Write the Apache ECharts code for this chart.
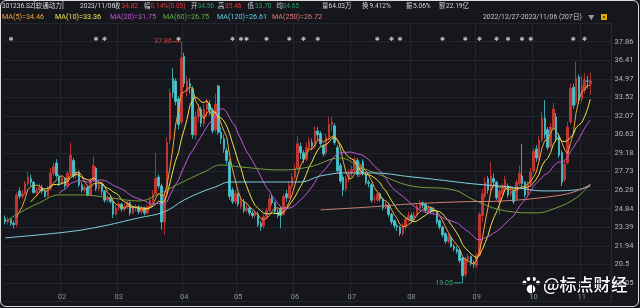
<!DOCTYPE html>
<html><head><meta charset="utf-8">
<script src="https://cdn.jsdelivr.net/npm/echarts@6/dist/echarts.min.js"></script>
<style>
html,body{margin:0;padding:0;background:#fff;}
#wrap{position:relative;width:640px;height:308px;}
#c{width:640px;height:308px;}
#frame{position:absolute;left:0;top:0;width:637px;height:305px;border:1.5px solid #dcdcdc;border-radius:6px;pointer-events:none;}
</style></head>
<body><div id="wrap"><div id="c"></div><div id="frame"></div></div>
<script>
// ---- data ----
// daily candles [open, close, low, high], 2022/12/27 .. 2023/11/06 (207 trading days)
const ohlc = [
[24.1,23.8,23.6,24.3],[23.8,24.0,23.6,24.2],[24.0,23.7,23.5,24.1],[23.7,23.6,23.3,23.9],[23.6,25.9,23.4,26.1],
[26.2,25.8,25.6,26.5],[25.8,26.0,25.6,26.3],[26.0,26.8,25.9,27.0],[26.8,27.3,26.6,27.7],[27.2,26.9,26.6,27.5],
[26.9,26.1,26.0,27.0],[26.1,26.3,25.9,26.5],[26.3,26.5,26.1,26.8],[26.5,26.2,26.0,26.7],[26.2,25.8,25.7,26.4],
[25.8,26.4,25.7,26.6],[26.4,27.6,26.3,28.0],[27.6,28.1,27.4,28.4],[28.4,27.4,27.2,28.7],[27.4,26.8,26.6,27.5],
[26.8,27.2,26.7,27.4],[27.2,26.6,26.4,27.3],[26.6,27.6,26.5,27.8],[27.6,29.0,27.4,30.0],[28.6,27.4,27.2,28.8],
[27.4,27.7,27.2,28.0],[27.7,26.7,26.5,27.8],[26.7,26.3,26.1,26.9],[26.3,26.5,26.1,26.7],[26.5,25.9,25.8,26.6],
[25.9,27.0,25.8,27.2],[27.0,28.2,26.9,28.9],[28.0,26.4,26.2,28.1],[26.4,26.7,26.2,27.0],[26.7,26.2,25.9,26.9],
[26.2,25.5,25.3,26.3],[25.5,25.7,25.3,25.9],[25.7,25.4,25.2,25.9],[25.4,24.4,24.1,25.5],[24.4,24.9,24.3,25.1],
[24.9,25.2,24.7,25.4],[25.2,24.8,24.6,25.3],[24.8,25.0,24.6,25.2],[25.0,25.3,24.8,25.5],[25.3,24.5,24.3,25.4],
[24.5,24.9,24.4,25.1],[24.9,25.0,24.6,25.2],[25.0,24.6,24.4,25.1],[24.6,24.9,24.4,25.1],[24.9,24.5,24.3,25.0],
[24.5,25.0,24.4,25.2],[25.0,25.5,24.9,25.7],[25.5,26.0,25.3,26.3],[26.0,27.2,25.9,29.2],[27.3,26.6,26.4,27.5],
[26.6,23.8,23.2,26.8],[23.8,25.9,22.8,26.1],[26.0,30.0,25.9,30.4],[30.2,33.9,29.9,34.2],[35.0,33.9,33.5,35.8],
[34.8,33.2,32.9,35.0],[33.4,31.4,31.0,33.6],[31.6,36.6,31.4,37.86],[36.7,34.6,34.3,37.0],[34.0,34.8,33.6,35.2],
[34.6,34.4,33.8,35.0],[34.2,30.6,30.3,34.4],[30.6,32.0,30.2,32.4],[32.0,32.6,31.6,33.0],[32.6,31.5,31.2,32.8],
[31.5,32.6,31.2,33.0],[32.6,33.0,32.0,33.4],[33.0,32.5,32.1,33.3],[32.5,30.9,30.7,32.7],[31.0,33.0,30.8,33.8],
[34.4,30.8,30.6,34.5],[30.8,30.3,29.9,31.2],[30.3,29.5,29.2,30.6],[29.4,28.6,28.3,29.6],[28.5,25.8,25.5,28.7],
[26.3,25.4,25.2,26.5],[25.4,26.0,25.2,26.3],[26.0,25.2,25.0,26.1],[25.0,25.6,24.8,25.8],[25.4,24.7,24.5,25.6],
[24.7,24.9,24.5,25.2],[24.9,24.5,24.3,25.0],[24.5,24.3,24.1,24.7],[24.3,24.5,24.1,24.7],[24.4,23.6,23.4,24.6],
[23.7,23.4,23.1,23.9],[23.5,24.2,23.3,24.4],[24.2,24.7,24.0,24.9],[24.7,25.6,24.5,26.0],[25.7,25.3,25.1,25.9],
[25.3,24.6,24.4,25.4],[24.6,24.3,24.1,24.8],[24.8,24.3,23.3,25.0],[24.4,25.8,24.3,26.0],[26.0,25.7,25.4,26.3],
[25.7,26.6,25.6,26.9],[26.6,27.3,26.4,27.6],[27.3,28.0,27.1,28.3],[28.0,29.9,27.9,30.5],[29.7,29.2,28.7,30.0],
[29.2,28.7,28.4,29.4],[28.7,29.6,28.5,30.0],[29.6,30.1,29.3,30.4],[30.0,29.7,29.4,30.3],[29.7,30.9,29.5,31.3],
[30.9,30.6,30.2,31.2],[30.7,29.9,29.7,30.9],[29.7,29.1,28.9,29.9],[29.2,30.4,29.0,30.7],[30.4,31.4,30.2,32.0],
[31.4,31.6,30.9,32.0],[31.3,30.0,29.8,31.5],[29.6,27.8,27.6,29.8],[28.2,27.0,26.8,28.4],[27.3,26.3,25.8,27.5],
[26.4,27.2,26.2,27.4],[27.1,27.6,26.9,27.9],[27.6,27.9,27.3,28.2],[27.8,28.7,27.6,28.9],[28.6,27.5,27.3,28.8],
[27.5,28.3,27.3,28.5],[28.5,27.6,27.4,28.7],[27.5,26.9,26.7,27.7],[26.9,26.8,26.5,27.1],[26.7,25.5,25.3,26.8],
[25.6,25.6,25.3,25.9],[25.5,26.0,25.4,26.2],[26.0,25.6,25.4,26.1],[25.6,24.9,24.7,25.7],[24.9,25.2,24.8,25.4],
[25.1,24.4,24.2,25.3],[24.4,23.8,23.6,24.5],[23.9,23.5,23.3,24.0],[23.5,23.4,23.1,23.7],[23.4,22.9,22.7,23.5],
[22.9,23.5,22.7,23.7],[23.4,24.0,23.2,24.2],[24.0,24.3,23.8,24.6],[24.3,24.0,23.8,24.5],[24.0,24.4,23.9,24.6],
[24.4,25.0,24.3,25.2],[24.9,25.3,24.7,25.5],[25.3,25.1,24.9,25.4],[25.2,24.7,24.5,25.3],[24.6,24.9,24.4,25.1],
[24.9,24.6,24.4,25.0],[24.6,24.8,24.4,25.0],[24.6,23.8,23.6,24.7],[23.9,23.4,23.2,24.0],[23.4,22.8,22.6,23.5],
[22.9,22.3,22.1,23.0],[22.3,22.7,22.1,22.9],[22.6,21.9,21.8,22.7],[21.9,21.7,21.5,22.1],[21.7,21.5,21.3,21.9],
[21.6,20.8,20.6,21.7],[21.0,19.6,19.05,21.1],[19.7,20.9,19.5,21.1],[20.9,21.1,20.6,21.3],[21.1,20.6,20.4,21.2],
[20.6,20.5,20.2,20.8],[20.4,21.2,20.2,21.4],[21.2,24.4,21.1,24.6],[24.3,26.0,23.8,26.4],[25.8,26.9,25.6,27.3],
[27.2,26.3,26.0,27.4],[26.3,27.4,26.1,28.5],[27.2,26.9,26.5,27.6],[26.9,25.7,25.5,27.0],[25.3,26.2,24.4,26.4],
[26.0,26.6,25.8,26.8],[26.5,27.1,26.3,27.4],[26.6,25.9,25.7,26.8],[26.0,26.2,25.8,26.5],[26.2,25.4,25.2,26.3],
[25.6,26.9,25.5,27.1],[26.8,27.6,26.6,28.2],[27.4,26.8,26.5,29.9],[26.9,25.9,25.7,27.0],[25.9,26.8,25.8,27.0],
[26.8,27.7,26.6,28.0],[27.8,29.3,27.6,29.6],[29.5,28.8,28.5,29.8],[28.8,30.2,28.6,30.5],[30.2,31.9,30.0,32.4],
[31.9,30.6,30.3,33.3],[31.0,29.6,29.4,31.2],[29.7,31.2,29.5,31.5],[31.2,32.6,31.0,33.1],[32.0,30.3,30.1,32.3],
[30.5,29.0,28.8,30.7],[29.2,26.9,26.6,29.4],[27.1,28.3,26.9,28.6],[28.4,31.2,28.3,31.6],[31.6,34.2,31.4,34.6],
[34.3,32.9,32.6,34.6],[33.1,35.0,32.9,36.3],[35.1,33.3,33.0,35.3],[33.4,34.4,33.1,35.2],[34.1,34.9,33.8,35.4],
[34.8,34.77,34.2,35.2],[34.56,34.82,33.70,35.46]
];
// long moving averages: [dayIndex, value]
const ma60Pts = [[0,23.81],[5,24.51],[12,25.29],[19,25.91],[27,25.91],[37,25.68],[47,25.44],[55,26.07],[59,26.53],[64,27.08],[70,27.70],[76,28.25],[83,28.09],[97,27.86],[107,28.09],[118,28.79],[125,28.09],[132,27.47],[143,26.61],[158,26.30],[165,25.52],[176,24.67],[187,24.51],[194,24.90],[201,25.68],[206,26.75]];
const ma120Pts = [[0,22.56],[22,23.03],[33,23.42],[47,24.12],[56,24.59],[63,25.52],[70,26.22],[74,26.53],[79,26.92],[90,26.92],[104,26.92],[111,27.39],[120,27.63],[129,27.63],[143,27.32],[153,27.08],[165,26.77],[178,26.53],[190,26.22],[201,26.30],[206,26.61]];
const ma250Pts = [[111,24.74],[129,24.98],[143,25.21],[160,25.37],[176,25.45],[194,25.84],[201,26.20],[206,26.72]];
// month tick labels and the day index where each month starts
const monthLabels = ['02','03','04','05','06','07','08','09','10','11'];
const monthStart = [20,40,63,82,102,122,143,166,186,203];
// y-axis tick labels
const yTickLow = 19.05, yTickHigh = 37.86, yTickCount = 13;
// event marker days (white asterisks along the top)
const eventDays = [2,32,35,61,80,83,85,92,100,105,110,131,136,139,154,162,167,173,177,182,185,200,204];
// high / low markers
const highPoint = [62, 37.86];
const lowPoint = [161, 19.05];
// header quote
const quoteRow = [
 ['301236.SZ[软通动力]','w'],['2023/11/06','w'],['收','w'],['34.82','r'],['幅','w'],['0.14%(0.05)','r'],
 ['开','w'],['34.56','g'],['高','w'],['35.46','r'],['低','w'],['33.70','g'],['均','w'],['34.65','g'],
 ['量','w'],['64.03万','w'],['换','w'],['9.412%','w'],['振','w'],['5.06%','w'],['额','w'],['22.19亿','w']
];
const maLegend = ['MA(5)=34.46','MA(10)=33.36','MA(20)=31.75','MA(60)=26.75','MA(120)=26.61','MA(250)=26.72'];
const rangeText = '2022/12/27-2023/11/06 (207日)';

// ---- build ----
const N_SLOTS = 214;
const categories = Array.from({length:N_SLOTS}, (_,i)=>'d'+i);
const closes = ohlc.map(d=>d[1]);
function ma(n){ return closes.map((c,i)=>{ if(i<n-1) return '-'; let s=0; for(let k=i-n+1;k<=i;k++) s+=closes[k]; return +(s/n).toFixed(3);}); }
const step = (yTickHigh - yTickLow)/yTickCount;
const yMin = yTickLow - step, yMax = yTickHigh + step;

const RED='#e03c38', GRN='#2f9a63', WHT='#d6d8dc';
const maColors = ['#f0a43a','#efe04c','#c258d6','#5fae45','#5fcfe6','#e07474'];
const FONT = '"Noto Sans CJK SC", "Noto Sans", sans-serif';
const NUMFONT = 'Roboto, "Noto Sans CJK SC", sans-serif';

const rowX = [2,80,114,121.5,144,150.5,191,197.5,218,225,247.5,255,276.5,282.5,322,328.5,362,369.5,406,413,439,446];
const legendX = [2,55,110,163,217,272];
const graphics = [];
quoteRow.forEach((q,k)=>{
  const isLabel = /^[\u4e00-\u9fff]$/.test(q[0]);
  graphics.push({type:'text', left:rowX[k], top: isLabel?2.6:3, silent:true,
    style:{text:q[0], fill: q[1]==='r'?RED:(q[1]==='g'?GRN:WHT), font:(isLabel?'6.4px ':'6.6px ')+(isLabel?FONT:NUMFONT)}});
});
maLegend.forEach((t,k)=>{
  graphics.push({type:'text', left:legendX[k], top:14, silent:true, style:{text:t, fill:maColors[k], font:'7.2px '+NUMFONT}});
});
graphics.push({type:'text', left:483, top:14, style:{text:rangeText, fill:'#c8c8c8', font:'6.8px '+NUMFONT}});
graphics.push({type:'line', shape:{x1:483,y1:23.5,x2:585,y2:23.5}, style:{stroke:'#aaa', lineWidth:0.7}});
graphics.push({type:'text', left:588, top:14.5, style:{text:'▼', fill:'#9a9a9a', font:'6.5px '+FONT}});
graphics.push({type:'rect', shape:{x:601,y:14,width:6,height:6}, style:{fill:'#e0b000'}});
graphics.push({type:'rect', shape:{x:603,y:16,width:2,height:2}, style:{fill:'#6a5000'}});
// watermark
const paw = [[531,289,4.3],[524.5,282.5,1.9],[528.5,279,1.9],[534,279,1.9],[538,282.5,1.9]];
paw.forEach(p=>graphics.push({type:'circle', shape:{cx:p[0],cy:p[1],r:p[2]}, style:{fill:'#fff', shadowColor:'rgba(0,0,0,0.5)', shadowBlur:2}}));
graphics.push({type:'text', left:543, top:276, style:{text:'@标点财经', fill:'#fff', font:'500 17px '+FONT, textShadowColor:'rgba(0,0,0,0.6)', textShadowBlur:3}});

const isMonth = (i)=> monthStart.indexOf(i) >= 0;
const gridColor = '#23262c';

const chart = echarts.init(document.getElementById('c'), null, {renderer:'canvas'});
chart.setOption({
  backgroundColor:'#15171c',
  animation:false,
  grid:{left:3.8, right:28.4, top:23.15, height:278.3},
  xAxis:{type:'category', data:categories, boundaryGap:true,
    axisLine:{show:false}, axisTick:{show:false},
    axisLabel:{interval:(i)=>isMonth(i), formatter:(v,i)=>{const k=monthStart.indexOf(i); return k>=0?monthLabels[k]:'';},
      color:'#8b9099', fontSize:7.5, fontFamily:NUMFONT, margin:-8},
    splitLine:{show:true, interval:(i)=>isMonth(i), lineStyle:{color:gridColor, width:1}}},
  yAxis:{type:'value', position:'right', min:yMin, max:yMax, interval:step, scale:true,
    axisLine:{show:true, lineStyle:{color:'#2a2d33'}}, axisTick:{show:false},
    axisLabel:{color:'#b4b8c0', fontSize:7.5, fontFamily:NUMFONT, margin:3,
      formatter:(v)=> (v<yTickLow-0.01||v>yTickHigh+0.01)?'':String(parseFloat(v.toFixed(2)))},
    splitLine:{show:true, lineStyle:{color:gridColor, width:1}}},
  graphic:graphics,
  series:[
    {type:'candlestick', data:ohlc, barWidth:'72%',
      itemStyle:{color:'#c8332f', color0:'#46c6d0', borderColor:'#d43a35', borderColor0:'#46c6d0', borderWidth:0.8},
      markPoint:{data:[
        {coord:highPoint, symbol:'rect', symbolSize:[8,1], symbolOffset:[-4.5,0], itemStyle:{color:RED},
          label:{show:true, position:'left', distance:1, formatter:'37.86', color:RED, fontSize:7, fontFamily:NUMFONT}},
        {coord:lowPoint, symbol:'rect', symbolSize:[8,1], symbolOffset:[-4.5,0], itemStyle:{color:'#3aa17a'},
          label:{show:true, position:'left', distance:1, formatter:'19.05', color:'#3aa17a', fontSize:7, fontFamily:NUMFONT}}
      ]}},
    {type:'line', name:'MA5', data:ma(5), showSymbol:false, lineStyle:{color:maColors[0], width:1}, z:3},
    {type:'line', name:'MA10', data:ma(10), showSymbol:false, lineStyle:{color:maColors[1], width:1}, z:3},
    {type:'line', name:'MA20', data:ma(20), showSymbol:false, lineStyle:{color:maColors[2], width:1}, z:3},
    {type:'line', name:'MA60', data:ma60Pts, showSymbol:false, smooth:0.4, lineStyle:{color:'#7a9c3e', width:1}, z:3},
    {type:'line', name:'MA120', data:ma120Pts, showSymbol:false, smooth:0.4, lineStyle:{color:'#82cfe2', width:1}, z:3},
    {type:'line', name:'MA250', data:ma250Pts, showSymbol:false, smooth:0.4, lineStyle:{color:'#cf7f78', width:1}, z:3},
    {type:'scatter', data:eventDays.map(d=>[d, 38.0]), symbol:'circle', symbolSize:1,
      itemStyle:{color:'rgba(0,0,0,0)'},
      label:{show:true, position:'inside', formatter:'✱', color:'#e4e4e4', fontSize:6, fontFamily:'DejaVu Sans'}, z:5}
  ]
});
</script></body></html>
